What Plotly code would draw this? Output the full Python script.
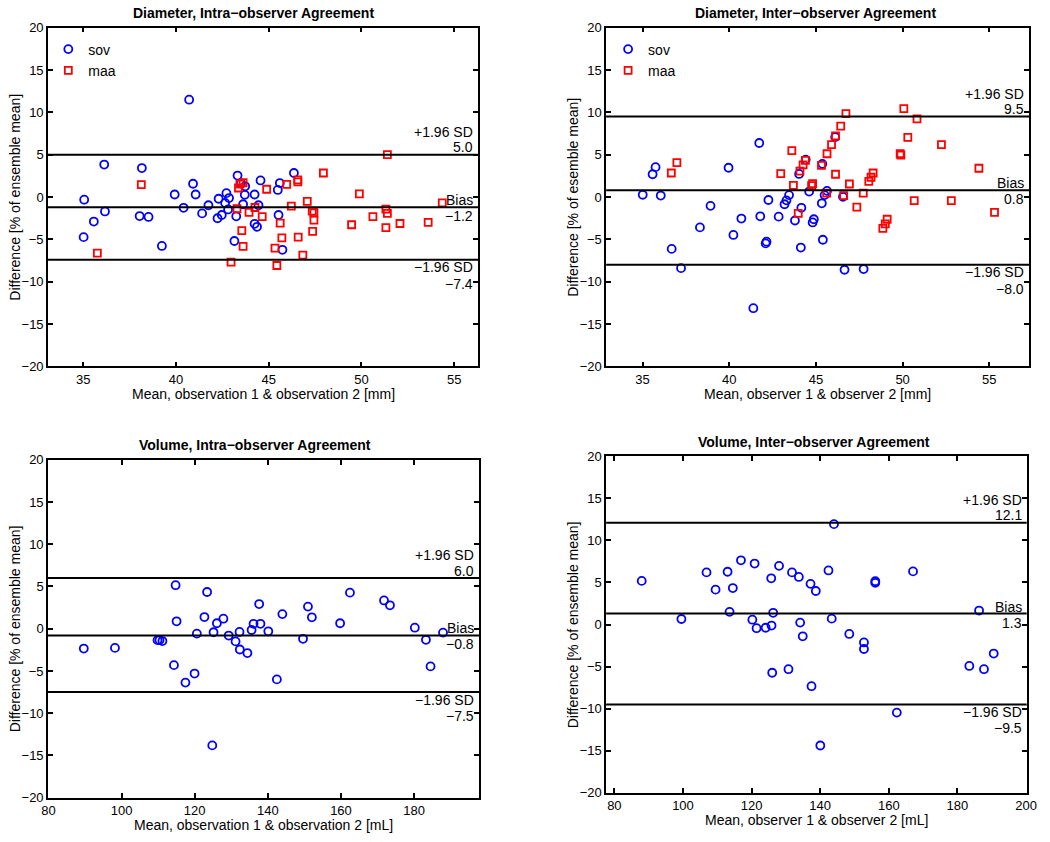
import plotly.graph_objects as go

W, H = 1050, 842

# ---------------- Panel 1: Diameter, intra-observer ----------------
d_intra_sov_x = [40.71, 36.13, 38.16, 35.05, 36.17, 35.57, 35.02, 38.04, 38.52, 39.24,
                 39.93, 40.41, 40.92, 41.06, 41.41, 41.75, 42.30, 42.24, 42.47, 42.72,
                 42.65, 42.86, 42.81, 43.32, 43.25, 43.15, 43.62, 43.71, 43.73, 43.50,
                 44.24, 44.56, 44.45, 44.24, 44.37, 46.36, 45.60, 45.49, 45.53, 45.74]
d_intra_sov_y = [11.49, 3.84, 3.42, -0.31, -1.70, -2.89, -4.73, -2.24, -2.35, -5.77,
                 0.30, -1.27, 1.57, 0.30, -1.93, -0.97, -0.20, -2.50, -2.12, 0.46,
                 -0.69, -0.12, -1.46, 2.54, -2.27, -5.19, -0.85, 0.27, 1.27, 1.62,
                 0.30, 1.96, -0.97, -3.16, -3.51, 2.84, 1.65, 0.84, -2.12, -6.23]
d_intra_maa_x = [35.76, 38.13, 42.97, 43.29, 43.37, 43.45, 43.62, 43.55, 43.62, 43.94,
                 44.26, 44.65, 44.89, 45.97, 46.57, 46.57, 47.95, 46.22, 47.08, 45.62,
                 45.71, 45.34, 45.44, 46.59, 46.84, 47.35, 47.44, 47.44, 47.37, 49.89,
                 49.47, 50.62, 51.40, 51.32, 51.40, 51.32, 52.08, 53.60, 54.36]
d_intra_maa_y = [-6.62, 1.46, -7.69, -1.38, 1.07, 1.54, 1.69, -3.97, -5.81, -1.81,
                 -1.23, -2.31, 0.92, 1.50, 2.03, 1.80, 2.84, -1.08, -0.51, -3.08,
                 -4.81, -6.04, -8.08, -4.73, -6.85, -1.66, -1.85, -2.73, -4.04, 0.38,
                 -3.27, -2.31, 5.00, -1.43, -1.93, -3.62, -3.12, -3.00, -0.69]
d_intra_stats = [5.0, -1.2, -7.4]   # +1.96 SD, bias, -1.96 SD

# ---------------- Panel 2: Diameter, inter-observer ----------------
d_inter_sov_x = [35.01, 35.58, 35.75, 36.05, 36.68, 37.22, 38.31, 38.92, 39.96, 40.24,
                 40.70, 41.39, 41.73, 41.79, 42.26, 42.10, 42.15, 42.85, 43.19, 43.30,
                 43.45, 43.79, 44.13, 44.16, 44.03, 44.41, 44.61, 44.81, 44.88, 45.37,
                 45.34, 45.40, 45.50, 45.64, 46.11, 46.56, 46.65, 47.75]
d_inter_sov_y = [0.27, 2.69, 3.53, 0.18, -6.12, -8.39, -3.58, -1.04, 3.46, -4.47,
                 -2.54, -13.12, 6.38, -2.27, -0.35, -5.47, -5.27, -2.31, -0.85, -0.39,
                 0.23, -2.77, -5.96, -1.27, 2.73, 4.42, 0.65, -3.00, -2.62, 3.92,
                 -0.74, -5.04, 0.23, 0.73, 7.07, 0.03, -8.58, -8.50]
d_inter_maa_x = [36.66, 36.98, 42.97, 43.61, 43.70, 43.98, 44.08, 44.26, 44.39, 44.75,
                 44.81, 45.32, 45.64, 45.62, 45.90, 46.13, 46.13, 46.43, 46.73, 46.60,
                 46.93, 47.36, 47.73, 48.05, 48.18, 48.30, 48.86, 49.00, 49.11, 49.86,
                 49.90, 50.07, 50.30, 50.67, 50.83, 52.24, 52.81, 54.40, 55.30]
d_inter_maa_y = [2.84, 4.07, 2.77, 5.49, 1.38, -1.93, 3.07, 3.81, 4.34, 1.34,
                 1.57, 3.73, 5.11, 0.46, 6.19, 7.23, 2.69, 8.38, 9.85, 0.18,
                 1.54, -1.19, 0.46, 1.85, 2.34, 2.84, -3.69, -3.16, -2.62, 5.11,
                 4.96, 10.45, 7.04, -0.43, 9.23, 6.19, -0.43, 3.40, -1.80]
d_inter_stats = [9.5, 0.8, -8.0]

# ---------------- Panel 3: Volume, intra-observer ----------------
v_intra_x = [89.68, 98.20, 109.84, 110.38, 111.18, 114.78, 115.05, 114.33, 117.47, 119.97,
             120.59, 122.66, 123.39, 124.81, 125.16, 126.07, 127.85, 129.30, 131.18, 132.26,
             132.34, 134.41, 135.56, 136.10, 137.63, 137.98, 140.13, 142.47, 143.98, 149.62,
             150.97, 152.04, 159.76, 162.45, 171.77, 173.39, 180.19, 183.23, 184.49, 187.90]
v_intra_y = [-2.35, -2.27, -1.35, -1.35, -1.46, 5.15, 0.88, -4.31, -6.38, -5.31,
             -0.58, 1.38, 4.35, -13.81, -0.42, 0.65, 1.19, -0.81, -1.50, -0.38,
             -2.46, -2.88, -0.15, 0.58, 2.92, 0.58, -0.31, -6.00, 1.73, -1.19,
             2.62, 1.35, 0.65, 4.27, 3.35, 2.77, 0.12, -1.31, -4.46, -0.46]
v_intra_stats = [6.0, -0.8, -7.5]

# ---------------- Panel 4: Volume, inter-observer ----------------
v_inter_x = [87.97, 99.54, 106.86, 109.50, 113.00, 113.58, 114.53, 116.90, 120.22, 120.88,
             121.45, 124.10, 125.72, 125.81, 126.29, 126.01, 128.00, 130.75, 131.78, 133.77,
             137.18, 138.72, 142.41, 144.01, 156.06, 156.06, 167.06, 134.16, 134.91, 143.36,
             148.48, 152.75, 152.75, 137.47, 140.03, 162.33, 186.31, 190.58, 183.47, 187.74]
v_inter_y = [5.19, 0.66, 6.20, 4.15, 6.28, 1.51, 4.34, 7.64, 0.58, 7.25,
             -0.43, -0.38, 5.50, -0.12, 1.40, -5.73, 6.98, -5.31, 6.20, 5.66,
             4.84, 3.99, 6.43, 11.94, 5.15, 4.96, 6.32, 0.23, -1.40, 0.70,
             -1.12, -2.13, -2.91, -7.33, -14.38, -10.47, 1.66, -3.45, -4.92, -5.31]
v_inter_stats = [12.1, 1.3, -9.5]

# ---------------- Labels ----------------
titles = ["Diameter, Intra\u2212observer Agreement", "Diameter, Inter\u2212observer Agreement",
          "Volume, Intra\u2212observer Agreement", "Volume, Inter\u2212observer Agreement"]
xtitles = ["Mean, observation 1 & observation 2 [mm]", "Mean, observer 1 & observer 2 [mm]",
           "Mean, observation 1 & observation 2 [mL]", "Mean, observer 1 & observer 2 [mL]"]
ytitles = ["Difference [% of ensemble mean]", "Difference [% of esemble mean]",
           "Difference [% of ensemble mean]", "Difference [% of ensemble mean]"]
stat_labels = ["+1.96 SD", "Bias", "\u22121.96 SD"]
x_ticks = [[35, 40, 45, 50, 55], [35, 40, 45, 50, 55],
           [80, 100, 120, 140, 160, 180], [80, 100, 120, 140, 160, 180, 200]]
x_ranges = [[33.1, 56.3], [32.9, 57.3], [79.9, 197.8], [77.6, 200.2]]
y_ticks = [-20, -15, -10, -5, 0, 5, 10, 15, 20]
all_stats = [d_intra_stats, d_inter_stats, v_intra_stats, v_inter_stats]

# pixel boxes of the four axes (left, right, top, bottom)
boxes = [(41.7, 479.0, 21.0, 366.0), (609.0, 1039.0, 21.0, 366.0),
         (41.7, 480.0, 461.0, 805.0), (609.0, 1036.5, 457.5, 800.0)]
title_cx = [251, 822, 252, 820]

FONT = "Liberation Sans, Arial, Helvetica, sans-serif"
FS = 14      # titles / labels
TFS = 13     # tick labels
BLUE = "#0000FF"
RED = "#FF0000"

fig = go.Figure()


def fx(p):
    return p / W


def fy(p):
    return 1 - p / H


def add_pts(i, xs, ys, name, symbol, color, size, legend=None):
    sfx = "" if i == 0 else str(i + 1)
    fig.add_trace(go.Scatter(
        x=xs, y=ys, mode="markers", name=name,
        xaxis="x" + sfx, yaxis="y" + sfx,
        marker=dict(symbol=symbol, color=color, size=size, line=dict(width=1.8, color=color)),
        showlegend=legend is not None, legend=legend if legend else "legend",
        hoverinfo="skip"))


add_pts(0, d_intra_sov_x, d_intra_sov_y, "sov", "circle-open", BLUE, 8, "legend")
add_pts(0, d_intra_maa_x, d_intra_maa_y, "maa", "square-open", RED, 7, "legend")
add_pts(1, d_inter_sov_x, d_inter_sov_y, "sov", "circle-open", BLUE, 8, "legend2")
add_pts(1, d_inter_maa_x, d_inter_maa_y, "maa", "square-open", RED, 7, "legend2")
add_pts(2, v_intra_x, v_intra_y, "sov", "circle-open", BLUE, 8)
add_pts(3, v_inter_x, v_inter_y, "sov", "circle-open", BLUE, 8)

layout = dict(
    width=W, height=H, margin=dict(l=0, r=0, t=0, b=0),
    paper_bgcolor="white", plot_bgcolor="white",
    font=dict(family=FONT, size=FS, color="black"),
    shapes=[], annotations=[],
    legend=dict(x=fx(42), y=fy(27), xanchor="left", yanchor="top",
                bgcolor="rgba(0,0,0,0)", font=dict(size=FS), tracegroupgap=0,
                itemwidth=30),
    legend2=dict(x=fx(611), y=fy(27), xanchor="left", yanchor="top",
                 bgcolor="rgba(0,0,0,0)", font=dict(size=FS), tracegroupgap=0,
                 itemwidth=30),
)

for i in range(4):
    sfx = "" if i == 0 else str(i + 1)
    l, r, t, b = boxes[i]
    axcommon = dict(showline=True, linecolor="black", linewidth=1.6, mirror="allticks",
                    ticks="inside", ticklen=5, tickwidth=1.5, tickcolor="black",
                    showgrid=False, zeroline=False,
                    tickfont=dict(size=TFS, family=FONT))
    layout["xaxis" + sfx] = dict(axcommon, domain=[fx(l), fx(r)], range=x_ranges[i],
                                 tickvals=x_ticks[i], anchor="y" + sfx)
    layout["yaxis" + sfx] = dict(axcommon, domain=[fy(b), fy(t)], range=[-20, 20],
                                 tickvals=y_ticks, anchor="x" + sfx)
    xref = "x" + sfx
    yref = "y" + sfx
    # limit-of-agreement lines
    for v in all_stats[i]:
        layout["shapes"].append(dict(type="line", xref=xref + " domain", yref=yref,
                                     x0=0, x1=1, y0=v, y1=v,
                                     line=dict(color="black", width=2)))
    # stat labels
    shifts = [(23, 7.5), (7, -9), (-7.5, -24)]
    for k, v in enumerate(all_stats[i]):
        val = ("%.1f" % v).replace("-", "\u2212")
        for txt, ys in ((stat_labels[k], shifts[k][0]), (val, shifts[k][1])):
            layout["annotations"].append(dict(
                text=txt, xref=xref + " domain", yref=yref, x=1, y=v,
                xanchor="right", yanchor="middle", xshift=-3, yshift=ys,
                showarrow=False, font=dict(size=FS, family=FONT)))
    # titles
    layout["annotations"].append(dict(
        text="<b>" + titles[i] + "</b>", xref="paper", yref="paper",
        x=fx(title_cx[i]), y=fy(t - 15), xanchor="center", yanchor="middle",
        showarrow=False, font=dict(size=FS, family=FONT)))
    layout["annotations"].append(dict(
        text=xtitles[i], xref="paper", yref="paper",
        x=fx((l + r) / 2), y=fy(b + 28), xanchor="center", yanchor="middle",
        showarrow=False, font=dict(size=FS, family=FONT)))
    layout["annotations"].append(dict(
        text=ytitles[i], xref="paper", yref="paper", textangle=-90,
        x=fx(l - 34), y=fy((t + b) / 2), xanchor="center", yanchor="middle",
        showarrow=False, font=dict(size=FS, family=FONT)))

fig.update_layout(**layout)
fig.write_html(
    "out.html", config={"displayModeBar": False},
    post_script=("document.documentElement.style.margin='0';"
                 "document.body.style.margin='0';"
                 "document.documentElement.style.overflow='hidden';"
                 "document.body.style.overflow='hidden';"
                 "var gd=document.getElementById('{plot_id}');"
                 "gd.style.overflow='hidden';gd.style.width='1050px';gd.style.height='842px';"
                 "document.querySelectorAll('svg.main-svg').forEach(function(s){s.style.overflow='hidden';});"))
